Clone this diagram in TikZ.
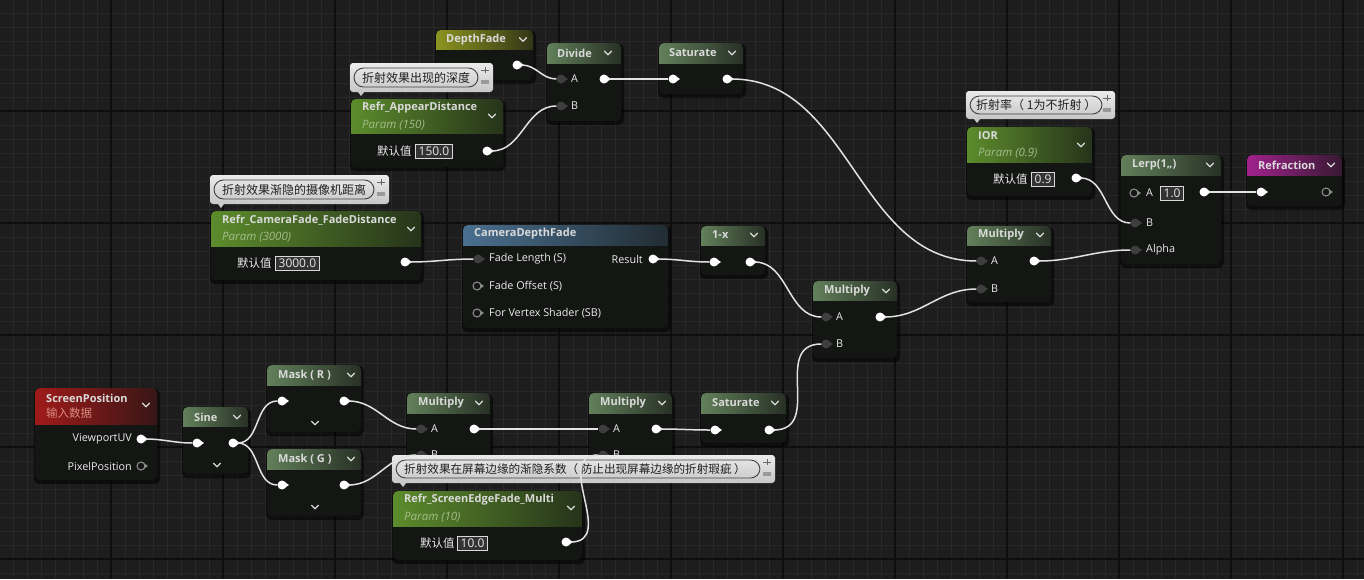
\documentclass[tikz,border=0pt]{standalone}
\usepackage{fontspec}
\setmainfont{Open Sans}
\newfontfamily\cjk{Noto Sans CJK SC}

\definecolor{bgc}{HTML}{1D1D1D}
\definecolor{gridminor}{HTML}{282828}
\definecolor{gridmajor}{HTML}{0E0E0E}
\definecolor{bodyc}{HTML}{141614}
\definecolor{hdexpr}{HTML}{62805A}
\definecolor{hdparam}{HTML}{5C8C2C}
\definecolor{hddepth}{HTML}{8C9420}
\definecolor{hdcam}{HTML}{4A7090}
\definecolor{hdscreen}{HTML}{A01A1A}
\definecolor{hdrefr}{HTML}{A0228C}
\definecolor{titlec}{HTML}{DADADA}
\definecolor{labelc}{HTML}{EAEAEA}
\definecolor{subc}{HTML}{A4BC8C}
\definecolor{subred}{HTML}{D88A80}
\definecolor{pinc}{HTML}{3E3E3E}
\definecolor{freec}{HTML}{8A8A8A}
\definecolor{wirec}{HTML}{E2E2E2}
\definecolor{notetext}{HTML}{202020}

% node frame: left, top, right, header bottom, bottom, header colour
\newcommand{\uebox}[6]{%
  \fill[black, opacity=0.55, rounded corners=5] (#1-1,#2+1) rectangle (#3+3,#5+4);
  \begin{scope}
    \clip[rounded corners=5] (#1,#2) rectangle (#3,#5);
    \fill[bodyc] (#1,#2) rectangle (#3,#5);
    \shade[left color=#6, middle color=#6!75!bodyc, right color=#6!25!bodyc]
      (#1,#2) rectangle (#3,#4);
  \end{scope}
}
% small chevron
\newcommand{\uechev}[3][1.3]{%
  \draw[titlec, line width=#1, line cap=round, line join=round]
    (#2-3.5,#3-1.8) -- (#2,#3+1.8) -- (#2+3.5,#3-1.8);
}
% pin: name, x, y, kind
\newcommand{\uepin}[4]{%
  \node[#4] (#1) at (#2,#3) {};
  \fill[#4tip] ([xshift=3.2pt,yshift=2.6pt]#1.center) -- ([xshift=7pt]#1.center)
    -- ([xshift=3.2pt,yshift=-2.6pt]#1.center) -- cycle;
}
% comment bubble: left, top, right, bottom, pill right
\newcommand{\uenote}[5]{%
  \shade[top color=white!92!black, bottom color=white!78!black, rounded corners=3]
    (#1,#2) rectangle (#3,#4);
  \fill[white!80!black] (#1+8,#4) -- (#1+14,#4) -- (#1+11,#4+4) -- cycle;
  \draw[black!75, line width=0.9, rounded corners=9.5] (#1+4,#2+5) rectangle (#5,#4-5);
  \draw[black!60, line width=0.8] (#3-12,#2+7) -- (#3-4,#2+7);
  \draw[black!60, line width=1] (#3-8,#2+4) -- (#3-8,#2+10);
  \fill[black!40] (#3-12,#2+17) rectangle (#3-4,#2+21);
}

\begin{document}
\begin{tikzpicture}[
    x=1pt, y=-1pt,
    wire/.style={draw=wirec, line width=1.5},
    pinout/.style={circle, fill=white, inner sep=0, minimum size=9},
    pinin/.style={circle, fill=pinc, inner sep=0, minimum size=9},
    pinfree/.style={circle, draw=freec, line width=1.1, fill=bodyc, inner sep=0, minimum size=8},
    pinouttip/.style={fill=white},
    pinintip/.style={fill=pinc},
    pinfreetip/.style={fill=freec},
    hdtitle/.style={anchor=west, inner sep=0, text=titlec, font=\fontsize{11}{13}\selectfont\bfseries},
    hdsub/.style={anchor=west, inner sep=0, text=subc, font=\fontsize{11.5}{13}\selectfont\itshape},
    lab/.style={anchor=west, inner sep=0, text=labelc, font=\fontsize{10.8}{13}\selectfont},
    labr/.style={lab, anchor=east},
    cjklab/.style={lab, font=\cjk\fontsize{11.5}{13}\selectfont},
    valbox/.style={anchor=west, draw=white!85!black, line width=0.9, fill=black!80, text=white!90!black,
      inner xsep=3.2, inner ysep=2.6, font=\fontsize{12}{14}\selectfont},
    notetxt/.style={anchor=west, inner sep=0, text=notetext, font=\cjk\fontsize{12}{14}\selectfont}
  ]
    \useasboundingbox (0,0) rectangle (1364,579);
    % Rejilla
    \fill[bgc] (0,0) rectangle (1364,579);
    \foreach \gx in {13,27,...,1363} { \draw[gridminor, line width=1] (\gx,0) -- (\gx,579); }
    \foreach \gy in {13,27,...,579} { \draw[gridminor, line width=1] (0,\gy) -- (1364,\gy); }
    \foreach \gx in {-1,111,...,1343} { \draw[gridmajor, line width=2] (\gx,0) -- (\gx,579); }
    \foreach \gy in {-1,111,...,559} { \draw[gridmajor, line width=2] (0,\gy) -- (1364,\gy); }

    % --- DepthFade / Divide / Saturate ---
    \uebox{436}{30}{533}{49}{80}{hddepth}
    \node[hdtitle] (dfT) at (446,39.5) {DepthFade};
    \uechev{523}{39.5}
    \uepin{dfOut}{517}{65}{pinout}

    \uebox{547}{43}{621}{63}{121}{hdexpr}
    \node[hdtitle] (dvT) at (557,53) {Divide};
    \uechev{608}{53}
    \uepin{dvA}{561}{79}{pinin}
    \uepin{dvB}{561}{106}{pinin}
    \uepin{dvOut}{604}{79}{pinout}
    \node[lab] (dvAl) at (571,79) {A};
    \node[lab] (dvBl) at (571,106) {B};

    \uebox{659}{43}{743}{63}{94}{hdexpr}
    \node[hdtitle] (st1T) at (669,53) {Saturate};
    \uechev{732}{53}
    \uepin{st1In}{673}{79}{pinout}
    \uepin{st1Out}{727}{79}{pinout}

    % --- Refr_AppearDistance ---
    \uebox{351}{99}{503}{133}{167}{hdparam}
    \node[hdtitle] (adT) at (362,108) {Refr\_AppearDistance};
    \node[hdsub] (adS) at (362,125) {Param (150)};
    \uechev{492}{116}
    \node[cjklab] (adK) at (377,151) {默认值};
    \node[valbox] (adV) at (415,151) {150.0};
    \uepin{adOut}{487}{151}{pinout}

    % --- Refr_CameraFade_FadeDistance / CameraDepthFade / 1-x ---
    \uebox{211}{211}{421}{246}{280}{hdparam}
    \node[hdtitle] (fdT) at (222,220) {Refr\_CameraFade\_FadeDistance};
    \node[hdsub] (fdS) at (222,237) {Param (3000)};
    \uechev{411}{229}
    \node[cjklab] (fdK) at (237,263) {默认值};
    \node[valbox] (fdV) at (275,263) {3000.0};
    \uepin{fdOut}{405}{262}{pinout}

    \uebox{463}{225}{668}{245}{328}{hdcam}
    \node[hdtitle] (cdT) at (474,234) {CameraDepthFade};
    \uepin{cdLen}{478}{259}{pinin}
    \uepin{cdOff}{477}{286}{pinfree}
    \uepin{cdVs}{477}{313}{pinfree}
    \uepin{cdRes}{653}{259}{pinout}
    \node[lab] (cdLenl) at (489,259) {Fade Length (S)};
    \node[lab] (cdOffl) at (489,286) {Fade Offset (S)};
    \node[lab] (cdVsl) at (489,313) {For Vertex Shader (SB)};
    \node[labr] (cdResl) at (643,259) {Result};

    \uebox{701}{226}{765}{245}{275}{hdexpr}
    \node[hdtitle] (omT) at (712,235) {1-x};
    \uechev{754}{235}
    \uepin{omIn}{714}{262}{pinout}
    \uepin{omOut}{750}{262}{pinout}

    % --- Multiply (centro) / Multiply (arriba) ---
    \uebox{813}{281}{897}{300}{358}{hdexpr}
    \node[hdtitle] (m2T) at (824,291) {Multiply};
    \uechev{886}{291}
    \uepin{m2A}{826}{317}{pinin}
    \uepin{m2B}{826}{344}{pinin}
    \uepin{m2Out}{880}{317}{pinout}
    \node[lab] (m2Al) at (836,317) {A};
    \node[lab] (m2Bl) at (836,344) {B};

    \uebox{967}{226}{1051}{245}{302}{hdexpr}
    \node[hdtitle] (m1T) at (978,235) {Multiply};
    \uechev{1040}{235}
    \uepin{m1A}{981}{261}{pinin}
    \uepin{m1B}{981}{289}{pinin}
    \uepin{m1Out}{1034}{261}{pinout}
    \node[lab] (m1Al) at (991,261) {A};
    \node[lab] (m1Bl) at (991,289) {B};

    % --- IOR / Lerp / Refraction ---
    \uebox{967}{127}{1092}{162}{196}{hdparam}
    \node[hdtitle] (iorT) at (978,136) {IOR};
    \node[hdsub] (iorS) at (978,153) {Param (0.9)};
    \uechev{1081}{145}
    \node[cjklab] (iorK) at (993,179) {默认值};
    \node[valbox] (iorV) at (1031,179) {0.9};
    \uepin{iorOut}{1076}{178}{pinout}

    \uebox{1121}{155}{1221}{175}{264}{hdexpr}
    \node[hdtitle] (lpT) at (1132,165) {Lerp(1,,)};
    \uechev{1210}{165}
    \uepin{lpA}{1134}{193}{pinfree}
    \uepin{lpB}{1135}{223}{pinin}
    \uepin{lpAl}{1135}{250}{pinin}
    \uepin{lpOut}{1204}{192}{pinout}
    \node[lab] (lpAt) at (1146,193) {A};
    \node[valbox] (lpV) at (1160,193) {1.0};
    \node[lab] (lpBt) at (1146,223) {B};
    \node[lab] (lpAlt) at (1146,250) {Alpha};

    \uebox{1247}{155}{1342}{175}{206}{hdrefr}
    \node[hdtitle] (rfT) at (1258,165) {Refraction};
    \uechev{1331}{165}
    \uepin{rfIn}{1261}{192}{pinout}
    \uepin{rfOut}{1326}{192}{pinfree}

    % --- ScreenPosition / Sine / Mask ---
    \uebox{35}{388}{157}{424}{480}{hdscreen}
    \node[hdtitle] (spT) at (46,398) {ScreenPosition};
    \node[hdsub, text=subred, font=\cjk\fontsize{11.5}{13}\selectfont] (spS) at (46,413) {输入数据};
    \uechev{146}{405}
    \uepin{spUV}{141}{439}{pinout}
    \uepin{spPix}{141}{466}{pinfree}
    \node[labr] (spUVl) at (132,439) {ViewportUV};
    \node[labr] (spPixl) at (132,466) {PixelPosition};

    \uebox{183}{407}{248}{426}{474}{hdexpr}
    \node[hdtitle] (snT) at (194,417) {Sine};
    \uechev{237}{417}
    \uechev[1.2]{217}{465}
    \uepin{snIn}{197}{443}{pinout}
    \uepin{snOut}{233}{443}{pinout}

    \uebox{267}{365}{361}{385}{432}{hdexpr}
    \node[hdtitle] (mrT) at (278,375) {Mask ( R )};
    \uechev{351}{375}
    \uechev[1.2]{315}{423}
    \uepin{mrIn}{282}{401}{pinout}
    \uepin{mrOut}{344}{401}{pinout}

    \uebox{267}{449}{361}{469}{516}{hdexpr}
    \node[hdtitle] (mgT) at (278,459) {Mask ( G )};
    \uechev{351}{459}
    \uechev[1.2]{315}{507}
    \uepin{mgIn}{282}{485}{pinout}
    \uepin{mgOut}{344}{485}{pinout}

    % --- Multiply / Multiply / Saturate (abajo) ---
    \uebox{407}{393}{490}{413}{470}{hdexpr}
    \node[hdtitle] (m3T) at (418,403) {Multiply};
    \uechev{479}{403}
    \uepin{m3A}{421}{429}{pinin}
    \uepin{m3B}{421}{455}{pinin}
    \uepin{m3Out}{474}{429}{pinout}
    \node[lab] (m3Al) at (431,429) {A};
    \node[lab] (m3Bl) at (431,455) {B};

    \uebox{589}{393}{672}{413}{470}{hdexpr}
    \node[hdtitle] (m4T) at (600,403) {Multiply};
    \uechev{662}{403}
    \uepin{m4A}{603}{429}{pinin}
    \uepin{m4B}{603}{455}{pinin}
    \uepin{m4Out}{656}{429}{pinout}
    \node[lab] (m4Al) at (613,429) {A};
    \node[lab] (m4Bl) at (613,455) {B};

    \uebox{701}{393}{786}{413}{443}{hdexpr}
    \node[hdtitle] (st2T) at (712,403) {Saturate};
    \uechev{775}{403}
    \uepin{st2In}{715}{430}{pinout}
    \uepin{st2Out}{769}{430}{pinout}

    % --- Refr_ScreenEdgeFade_Multi ---
    \uebox{393}{491}{582}{526}{560}{hdparam}
    \node[hdtitle] (seT) at (404,500) {Refr\_ScreenEdgeFade\_Multi};
    \node[hdsub] (seS) at (404,517) {Param (10)};
    \uechev{571}{508}
    \node[cjklab] (seK) at (420,543) {默认值};
    \node[valbox] (seV) at (457,543) {10.0};
    \uepin{seOut}{566}{542}{pinout}

    % Comentarios
    \uenote{350}{63}{493}{92}{478}
    \node[notetxt] (n1) at (362,77.5) {折射效果出现的深度};
    \uenote{210}{175}{389}{204}{374}
    \node[notetxt] (n2) at (222,189.5) {折射效果渐隐的摄像机距离};
    \uenote{966}{91}{1115}{119}{1102}
    \node[notetxt] (n3) at (976,105) {折射率（ 1为不折射 ）};
    \uenote{392}{455}{775}{483}{760}
    \node[notetxt, font=\cjk\fontsize{11.6}{14}\selectfont] (n4) at (404,469)
      {折射效果在屏幕边缘的渐隐系数（ 防止出现屏幕边缘的折射瑕疵 ）};

    % Conexiones
    \draw[wire] (dfOut.east) to[out=0, in=180] (dvA.west);
    \draw[wire] (adOut.east) to[out=0, in=180] (dvB.west);
    \draw[wire] (dvOut.east) to[out=0, in=180] (st1In.west);
    \draw[wire] (st1Out.east) to[out=0, in=180] (m1A.west);
    \draw[wire] (fdOut.east) to[out=0, in=180] (cdLen.west);
    \draw[wire] (cdRes.east) to[out=0, in=180] (omIn.west);
    \draw[wire] (omOut.east) to[out=0, in=180] (m2A.west);
    \draw[wire] (m2Out.east) to[out=0, in=180] (m1B.west);
    \draw[wire] (m1Out.east) to[out=0, in=180] (lpAl.west);
    \draw[wire] (iorOut.east) to[out=0, in=180] (lpB.west);
    \draw[wire] (lpOut.east) to[out=0, in=180] (rfIn.west);
    \draw[wire] (spUV.east) to[out=0, in=180] (snIn.west);
    \draw[wire] (snOut.east) to[out=0, in=180] (mrIn.west);
    \draw[wire] (snOut.east) to[out=0, in=180] (mgIn.west);
    \draw[wire] (mrOut.east) to[out=0, in=180] (m3A.west);
    \draw[wire] (mgOut.east) to[out=0, in=180] (m3B.west);
    \draw[wire] (m3Out.east) to[out=0, in=180] (m4A.west);
    \draw[wire] (seOut.east) to[out=0, in=180, looseness=1.3] (m4B.west);
    \draw[wire] (m4Out.east) to[out=0, in=180] (st2In.west);
    \draw[wire] (st2Out.east) to[out=0, in=180, looseness=1.3] (m2B.west);
  \end{tikzpicture}
\end{document}
